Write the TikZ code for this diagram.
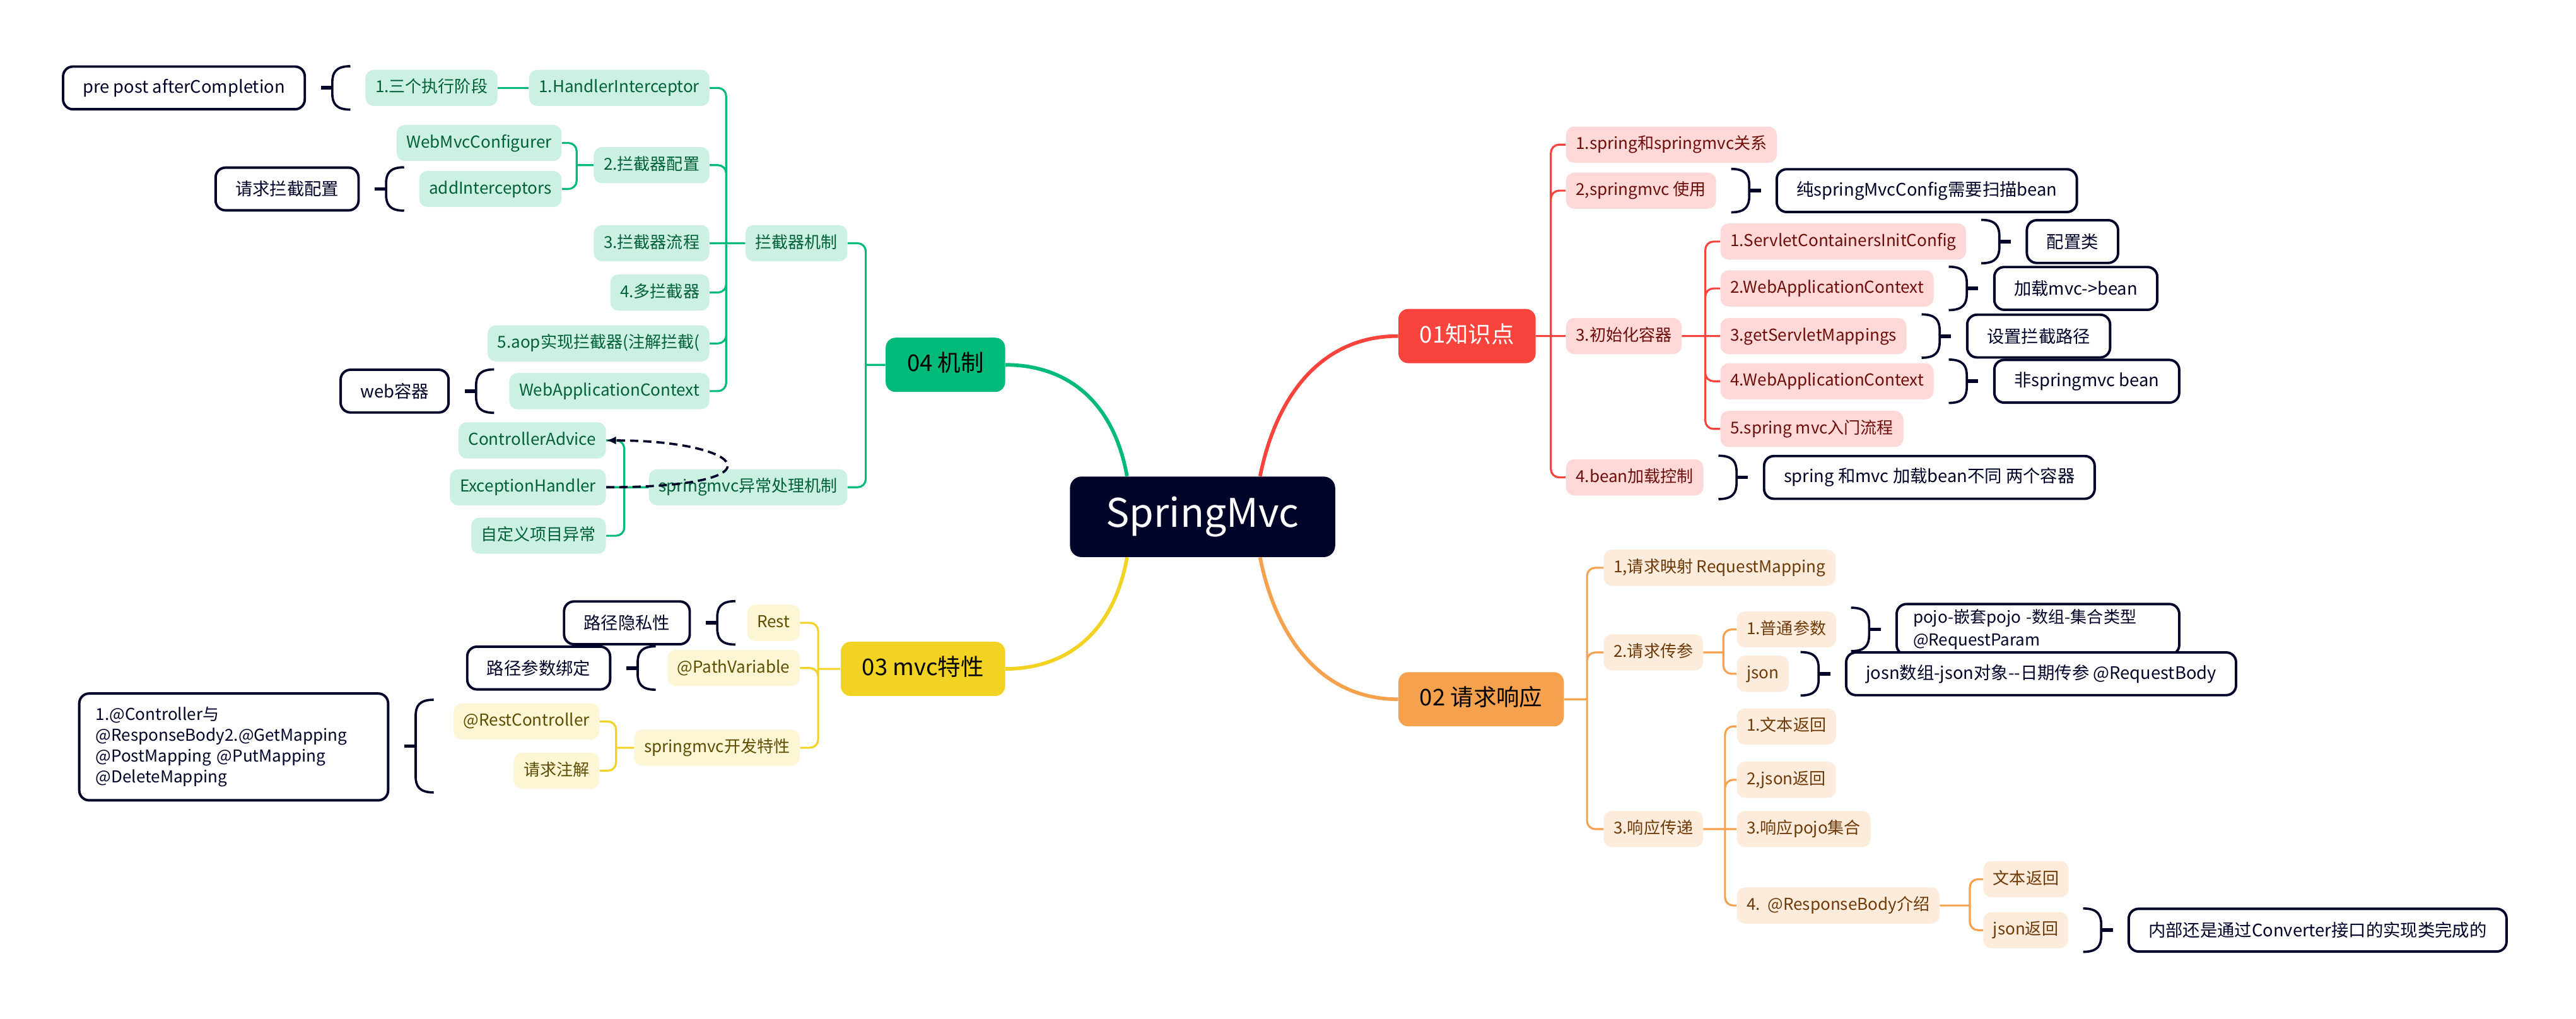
\documentclass[tikz,border=0pt]{standalone}
\usepackage{fontspec}
\setmainfont{Noto Sans CJK SC}
\usepackage{tikz}
\usetikzlibrary{positioning,calc,arrows.meta}
\definecolor{SmNavy}{RGB}{0, 4, 41}
\definecolor{SmRed}{RGB}{249, 68, 61}
\definecolor{SmRedSoft}{RGB}{254, 217, 216}
\definecolor{SmRedInk}{RGB}{110, 14, 10}
\definecolor{SmOrange}{RGB}{245, 161, 78}
\definecolor{SmOrangeSoft}{RGB}{253, 235, 220}
\definecolor{SmOrangeInk}{RGB}{110, 58, 8}
\definecolor{SmYellow}{RGB}{242, 211, 35}
\definecolor{SmYellowSoft}{RGB}{253, 246, 213}
\definecolor{SmYellowInk}{RGB}{95, 78, 0}
\definecolor{SmGreen}{RGB}{0, 186, 121}
\definecolor{SmGreenSoft}{RGB}{204, 241, 227}
\definecolor{SmGreenInk}{RGB}{0, 96, 58}

\tikzset{
  smroot/.style={fill=SmNavy, text=white, rounded corners=7pt, minimum height=49pt, inner xsep=22pt, font=\fontsize{24}{28}\selectfont},
  smtopic/.style={rounded corners=6pt, minimum height=33pt, inner xsep=13pt, text height=10.5pt, text depth=2.5pt, font=\fontsize{14}{16}\selectfont},
  leaf/.style={rounded corners=5pt, minimum height=22pt, inner xsep=6pt, inner ysep=1pt, text height=7.8pt, text depth=2pt, font=\fontsize{10}{12}\selectfont},
  leafred/.style={leaf, fill=SmRedSoft, text=SmRedInk},
  leaforange/.style={leaf, fill=SmOrangeSoft, text=SmOrangeInk},
  leafyellow/.style={leaf, fill=SmYellowSoft, text=SmYellowInk},
  leafgreen/.style={leaf, fill=SmGreenSoft, text=SmGreenInk},
  smnote/.style={draw=SmNavy, line width=1.5pt, rounded corners=6pt, fill=white, text=SmNavy, minimum height=26pt, inner xsep=12pt, font=\fontsize{10.5}{12.6}\selectfont},
  limb/.style={line width=2.2pt},
  wire/.style={line width=1.2pt, rounded corners=5pt},
  sumline/.style={SmNavy, line width=1.4pt},
  sumtick/.style={SmNavy, line width=2.2pt},
  hintline/.style={SmNavy, line width=1.4pt, dash pattern=on 5pt off 3pt, -{Latex[length=6pt,width=5pt]}}
}

% brace in front of a note that sums up topics #2..#3
\newcommand{\sumbraceR}[3]{%
  \draw[sumline] ($(#1.west |- #2.north)+(-27,-2)$)
      .. controls +(9,0) and +(0,-6) .. ($(#1.west |- #2.north)+(-16,8)$)
      -- ($(#1.west |- #3.south)+(-16,-8)$)
      .. controls +(0,6) and +(9,0) .. ($(#1.west |- #3.south)+(-27,2)$);
  \draw[sumtick] ($(#1.west |- #2.north)!0.5!(#1.west |- #3.south)+(-16,0)$) -- +(7,0);
}
\newcommand{\sumbraceL}[3]{%
  \draw[sumline] ($(#1.east |- #2.north)+(27,-2)$)
      .. controls +(-9,0) and +(0,-6) .. ($(#1.east |- #2.north)+(16,8)$)
      -- ($(#1.east |- #3.south)+(16,-8)$)
      .. controls +(0,6) and +(-9,0) .. ($(#1.east |- #3.south)+(27,2)$);
  \draw[sumtick] ($(#1.east |- #2.north)!0.5!(#1.east |- #3.south)+(16,0)$) -- +(-7,0);
}

\begin{document}
\begin{tikzpicture}[x=1pt, y=-1pt]
  \fill[white] (0,0) rectangle (1568,620);
  \useasboundingbox (0,0) rectangle (1568,620);

  \node[smroot] (root) at (732,314.5) {SpringMvc};

  % 01 知识点
  \node[smtopic, fill=SmRed, text=white, anchor=west] (t01) at (851,204.5) {01知识点};
  \draw[limb, SmRed] ([xshift=35pt]root.north) .. controls +(10,-50) and +(-46,0) .. (t01.west);
  \coordinate (j01) at (944,204.5);
  \node[leafred, anchor=west] (a1) at (953,88) {1.spring和springmvc关系};
  \node[leafred, anchor=west] (a2) at (953,116) {2,springmvc 使用};
  \node[leafred, anchor=west] (a3) at (953,204.5) {3.初始化容器};
  \node[leafred, anchor=west] (a4) at (953,290.5) {4.bean加载控制};
  \draw[wire, SmRed] (t01.east) -- (a3.west) (j01) |- (a1.west) (j01) |- (a2.west) (j01) |- (a4.west);
  \coordinate (j013) at (1038,204.5);
  \node[leafred, anchor=west] (c1) at (1047,147) {1.ServletContainersInitConfig};
  \node[leafred, anchor=west] (c2) at (1047,175.5) {2.WebApplicationContext};
  \node[leafred, anchor=west] (c3) at (1047,204.5) {3.getServletMappings};
  \node[leafred, anchor=west] (c4) at (1047,232) {4.WebApplicationContext};
  \node[leafred, anchor=west] (c5) at (1047,261) {5.spring mvc入门流程};
  \draw[wire, SmRed] (a3.east) -- (c3.west) (j013) |- (c1.west) (j013) |- (c2.west) (j013) |- (c4.west) (j013) |- (c5.west);
  \node[smnote, right=36pt of a2] (n12) {纯springMvcConfig需要扫描bean};
  \node[smnote, right=36pt of c1] (n131) {配置类};
  \node[smnote, right=36pt of c2] (n132) {加载mvc->bean};
  \node[smnote, right=36pt of c3] (n133) {设置拦截路径};
  \node[smnote, right=36pt of c4] (n134) {非springmvc bean};
  \node[smnote, right=36pt of a4] (n14) {spring 和mvc 加载bean不同 两个容器};
  \sumbraceR{n12}{a2}{a2}
  \sumbraceR{n131}{c1}{c1}
  \sumbraceR{n132}{c2}{c2}
  \sumbraceR{n133}{c3}{c3}
  \sumbraceR{n134}{c4}{c4}
  \sumbraceR{n14}{a4}{a4}

  % 02 请求响应
  \node[smtopic, fill=SmOrange, text=black, anchor=west] (t02) at (851,425.5) {02 请求响应};
  \draw[limb, SmOrange] ([xshift=35pt]root.south) .. controls +(10,50) and +(-46,0) .. (t02.west);
  \coordinate (j02) at (966,425.5);
  \node[leaforange, anchor=west] (b1) at (976,345.5) {1,请求映射 RequestMapping};
  \node[leaforange, anchor=west] (b2) at (976,397) {2.请求传参};
  \node[leaforange, anchor=west] (b3) at (976,504.5) {3.响应传递};
  \draw[wire, SmOrange] (t02.east) -- (j02) (j02) |- (b1.west) (j02) |- (b2.west) (j02) |- (b3.west);
  \coordinate (j022) at (1049,397);
  \node[leaforange, anchor=west] (b21) at (1057,383) {1.普通参数};
  \node[leaforange, anchor=west] (b22) at (1057,410) {json};
  \draw[wire, SmOrange] (b2.east) -- (j022) (j022) |- (b21.west) (j022) |- (b22.west);
  \coordinate (j023) at (1050,504.5);
  \node[leaforange, anchor=west] (b31) at (1057,442) {1.文本返回};
  \node[leaforange, anchor=west] (b32) at (1057,474.5) {2,json返回};
  \node[leaforange, anchor=west] (b33) at (1057,504.5) {3.响应pojo集合};
  \node[leaforange, anchor=west] (b34) at (1057,551) {4.\ \ @ResponseBody介绍};
  \draw[wire, SmOrange] (b3.east) -- (b33.west) (j023) |- (b31.west) (j023) |- (b32.west) (j023) |- (b34.west);
  \coordinate (j0234) at (1199,551);
  \node[leaforange, anchor=west] (b341) at (1207,535) {文本返回};
  \node[leaforange, anchor=west] (b342) at (1207,566) {json返回};
  \draw[wire, SmOrange] (b34.east) -- (j0234) (j0234) |- (b341.west) (j0234) |- (b342.west);
  \node[smnote, right=36pt of b21, align=left, text width=152pt, inner xsep=10pt, font=\fontsize{10}{13.5}\selectfont] (n221) {pojo-嵌套pojo -数组-集合类型\\@RequestParam};
  \node[smnote, right=34pt of b22] (n222) {josn数组-json对象-{}-日期传参 @RequestBody};
  \node[smnote, right=36pt of b342] (n2342) {内部还是通过Converter接口的实现类完成的};
  \sumbraceR{n221}{b21}{b21}
  \sumbraceR{n222}{b22}{b22}
  \sumbraceR{n2342}{b342}{b342}

  % 03 mvc特性
  \node[smtopic, fill=SmYellow, text=black, anchor=east] (t03) at (612,407) {03 mvc特性};
  \draw[limb, SmYellow] ([xshift=-46pt]root.south) .. controls +(-8,45) and +(38,0) .. (t03.east);
  \coordinate (j03) at (498,407);
  \node[leafyellow, anchor=east] (y1) at (487,379) {Rest};
  \node[leafyellow, anchor=east] (y2) at (487,406.5) {@PathVariable};
  \node[leafyellow, anchor=east] (y3) at (487,455) {springmvc开发特性};
  \draw[wire, SmYellow] (t03.west) -- (j03) (j03) |- (y1.east) (j03) |- (y2.east) (j03) |- (y3.east);
  \coordinate (j033) at (375,455);
  \node[leafyellow, anchor=east] (y31) at (365,439) {@RestController};
  \node[leafyellow, anchor=east] (y32) at (365,469) {请求注解};
  \draw[wire, SmYellow] (y3.west) -- (j033) (j033) |- (y31.east) (j033) |- (y32.east);
  \node[smnote, left=34pt of y1] (n31) {路径隐私性};
  \node[smnote, left=34pt of y2] (n32) {路径参数绑定};
  \node[smnote, anchor=east, align=left, text width=168pt, inner xsep=10pt, minimum height=65pt, font=\fontsize{10}{12.6}\selectfont] (n33) at (237,454.5)
    {1.@Controller与\\@ResponseBody2.@GetMapping\\@PostMapping @PutMapping\\@DeleteMapping};
  \sumbraceL{n31}{y1}{y1}
  \sumbraceL{n32}{y2}{y2}
  \sumbraceL{n33}{y31}{y32}

  % 04 机制
  \node[smtopic, fill=SmGreen, text=black, anchor=east] (t04) at (612,222) {04 机制};
  \draw[limb, SmGreen] ([xshift=-46pt]root.north) .. controls +(-8,-45) and +(38,0) .. (t04.east);
  \coordinate (j04) at (527,222);
  \node[leafgreen, anchor=east] (g1) at (516,148) {拦截器机制};
  \node[leafgreen, anchor=east] (g2) at (516,296.5) {springmvc异常处理机制};
  \draw[wire, SmGreen] (t04.west) -- (j04) (j04) |- (g1.east) (j04) |- (g2.east);
  \coordinate (j041) at (442,148);
  \node[leafgreen, anchor=east] (h1) at (432,53.5) {1.HandlerInterceptor};
  \node[leafgreen, anchor=east] (h2) at (432,100.5) {2.拦截器配置};
  \node[leafgreen, anchor=east] (h3) at (432,148) {3.拦截器流程};
  \node[leafgreen, anchor=east] (h4) at (432,178) {4.多拦截器};
  \node[leafgreen, anchor=east] (h5) at (432,209) {5.aop实现拦截器(注解拦截(};
  \node[leafgreen, anchor=east] (h6) at (432,238) {WebApplicationContext};
  \draw[wire, SmGreen] (g1.west) -- (h3.east) (j041) |- (h1.east) (j041) |- (h2.east) (j041) |- (h4.east) (j041) |- (h5.east) (j041) |- (h6.east);
  \node[leafgreen, anchor=east] (h11) at (303,53.5) {1.三个执行阶段};
  \draw[wire, SmGreen] (h1.west) -- (h11.east);
  \coordinate (j0412) at (351,100.5);
  \node[leafgreen, anchor=east] (h21) at (342,87) {WebMvcConfigurer};
  \node[leafgreen, anchor=east] (h22) at (342,115) {addInterceptors};
  \draw[wire, SmGreen] (h2.west) -- (j0412) (j0412) |- (h21.east) (j0412) |- (h22.east);
  \coordinate (j042) at (380,296.5);
  \node[leafgreen, anchor=east] (e1) at (369,268) {ControllerAdvice};
  \node[leafgreen, anchor=east] (e2) at (369,296.5) {ExceptionHandler};
  \node[leafgreen, anchor=east] (e3) at (369,326) {自定义项目异常};
  \draw[wire, SmGreen] (g2.west) -- (e2.east) (j042) |- (e1.east) (j042) |- (e3.east);
  \node[smnote, left=36pt of h11] (n411) {pre post afterCompletion};
  \node[smnote, left=36pt of h22] (n412) {请求拦截配置};
  \node[smnote, left=36pt of h6] (n416) {web容器};
  \sumbraceL{n411}{h11}{h11}
  \sumbraceL{n412}{h22}{h22}
  \sumbraceL{n416}{h6}{h6}
  \draw[hintline] (e2.east) .. controls +(110,0) and +(85,0) .. (e1.east);
\end{tikzpicture}
\end{document}
